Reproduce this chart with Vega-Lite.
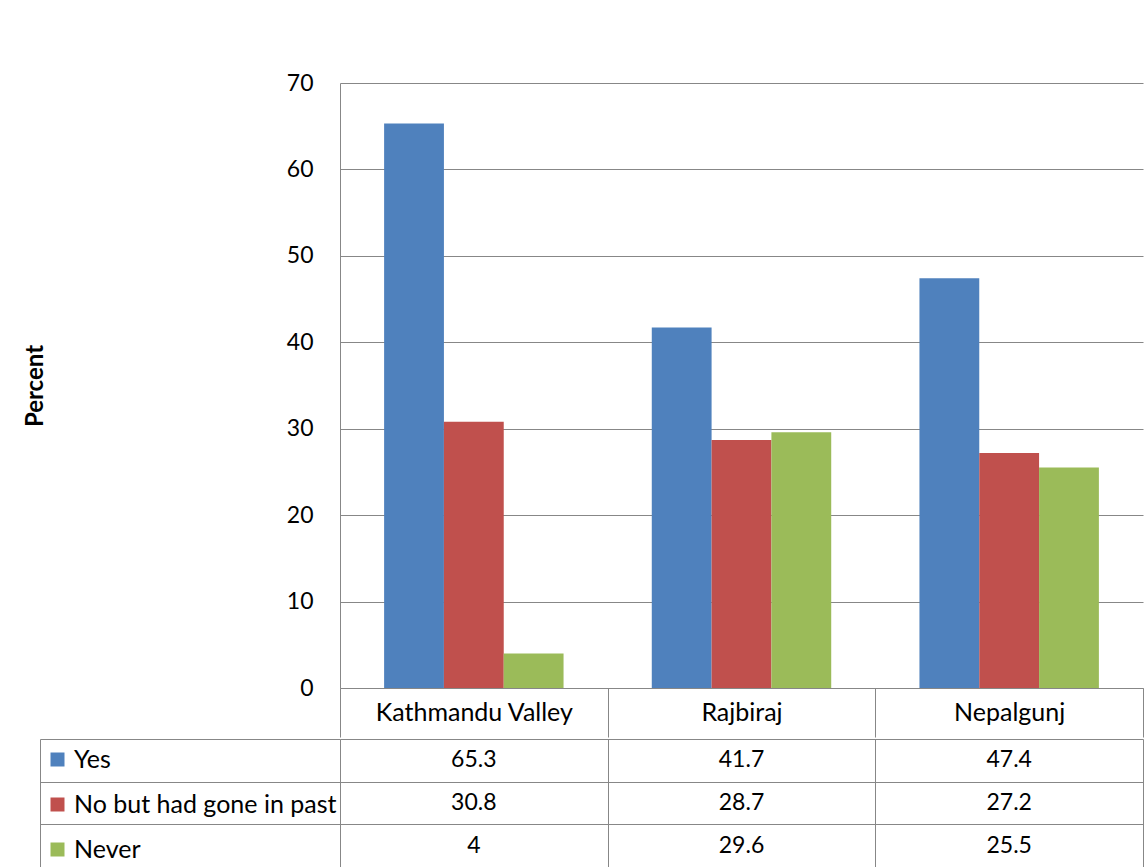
{
  "$schema": "https://vega.github.io/schema/vega-lite/v6.json",
  "background": "white",
  "padding": {"left": 23, "top": 72, "right": 0, "bottom": 0},
  "spacing": 0,
  "datasets": {
    "visits": [
      {"region": "Kathmandu Valley", "series": "Yes", "value": 65.3},
      {"region": "Kathmandu Valley", "series": "No but had gone in past", "value": 30.8},
      {"region": "Kathmandu Valley", "series": "Never", "value": 4},
      {"region": "Rajbiraj", "series": "Yes", "value": 41.7},
      {"region": "Rajbiraj", "series": "No but had gone in past", "value": 28.7},
      {"region": "Rajbiraj", "series": "Never", "value": 29.6},
      {"region": "Nepalgunj", "series": "Yes", "value": 47.4},
      {"region": "Nepalgunj", "series": "No but had gone in past", "value": 27.2},
      {"region": "Nepalgunj", "series": "Never", "value": 25.5}
    ]
  },
  "vconcat": [
    {
      "width": 803,
      "height": 605,
      "data": {"name": "visits"},
      "mark": {"type": "bar"},
      "encoding": {
        "x": {
          "field": "region",
          "type": "nominal",
          "sort": ["Kathmandu Valley", "Rajbiraj", "Nepalgunj"],
          "scale": {"paddingInner": 0, "paddingOuter": 0},
          "axis": {
            "title": null,
            "labelAngle": 0,
            "labelFontSize": 25,
            "tickBand": "extent",
            "tickSize": 49,
            "labelPadding": -25,
            "labelBaseline": "middle",
            "labelLimit": 400
          }
        },
        "xOffset": {
          "field": "series",
          "sort": ["Yes", "No but had gone in past", "Never"],
          "scale": {"paddingInner": 0, "paddingOuter": 0.7375}
        },
        "y": {
          "field": "value",
          "type": "quantitative",
          "scale": {"domain": [0, 70], "nice": false},
          "axis": {
            "title": "Percent",
            "values": [0, 10, 20, 30, 40, 50, 60, 70],
            "grid": true,
            "ticks": false,
            "labelPadding": 27,
            "titlePadding": 239,
            "titleFontWeight": "bold",
            "titleFontSize": 24
          }
        },
        "color": {
          "field": "series",
          "type": "nominal",
          "sort": ["Yes", "No but had gone in past", "Never"],
          "scale": {
            "domain": ["Yes", "No but had gone in past", "Never"],
            "range": ["#4F81BD", "#C0504D", "#9BBB59"]
          },
          "legend": {
            "orient": "none",
            "legendX": -295,
            "legendY": 664,
            "title": null,
            "symbolType": "square",
            "symbolSize": 196,
            "symbolStrokeWidth": 0,
            "symbolOpacity": 1,
            "labelFont": "Lato",
            "labelFontSize": 25,
            "labelColor": "black",
            "labelOffset": 4,
            "labelLimit": 400,
            "rowPadding": 19,
            "padding": 0
          }
        }
      }
    },
    {
      "width": 803,
      "height": 128,
      "data": {"name": "visits"},
      "mark": {"type": "text", "font": "Lato", "fontSize": 23, "color": "black", "baseline": "middle"},
      "encoding": {
        "x": {
          "field": "region",
          "type": "nominal",
          "sort": ["Kathmandu Valley", "Rajbiraj", "Nepalgunj"],
          "scale": {"paddingInner": 0, "paddingOuter": 0},
          "axis": {
            "title": null,
            "labels": false,
            "ticks": false,
            "domain": false,
            "grid": true,
            "tickBand": "extent"
          }
        },
        "y": {
          "field": "series",
          "type": "nominal",
          "sort": ["Yes", "No but had gone in past", "Never"],
          "scale": {"paddingInner": 0, "paddingOuter": 0},
          "axis": {
            "title": null,
            "labels": false,
            "offset": 300,
            "tickSize": -300,
            "tickBand": "extent",
            "grid": true
          }
        },
        "text": {"field": "value", "type": "quantitative"}
      }
    }
  ],
  "config": {
    "view": {"stroke": null},
    "axis": {
      "labelFont": "Lato",
      "labelFontSize": 23,
      "labelColor": "black",
      "titleFont": "Lato",
      "titleColor": "black",
      "domainColor": "#878787",
      "tickColor": "#878787",
      "gridColor": "#878787",
      "gridOpacity": 1,
      "domainWidth": 1,
      "tickWidth": 1,
      "gridWidth": 1
    },
    "bar": {"stroke": null}
  }
}
